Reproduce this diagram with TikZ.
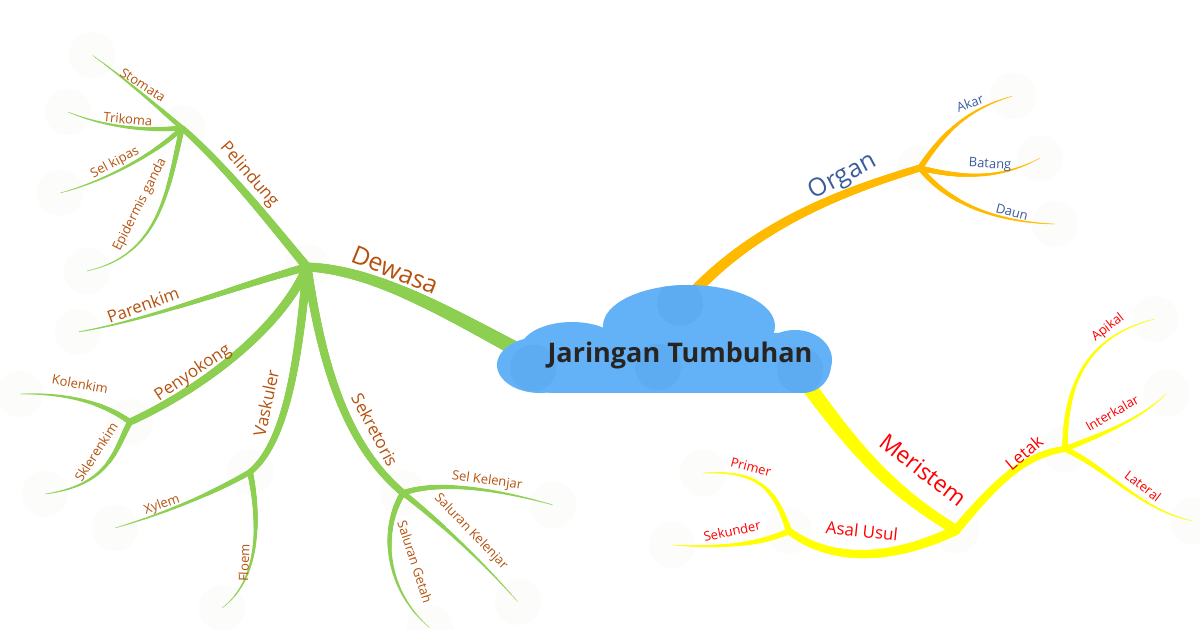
\documentclass[tikz,border=0pt]{standalone}
\usepackage{fontspec}
\setmainfont{Open Sans}
\usetikzlibrary{decorations.markings}
\definecolor{leafgreen}{RGB}{141,207,80}
\definecolor{organgold}{RGB}{255,186,0}
\definecolor{meriyellow}{RGB}{255,255,0}
\definecolor{rustink}{RGB}{182,82,14}
\definecolor{organink}{RGB}{59,92,156}
\definecolor{meriink}{RGB}{255,0,0}
\definecolor{cloudblue}{RGB}{99,178,248}
\definecolor{cloudshade}{RGB}{93,171,241}
\definecolor{rootink}{RGB}{40,36,33}
\definecolor{faint}{RGB}{252,252,250}
\tikzset{
  taper/.style n args={3}{postaction={decorate}, decoration={markings,
    mark=between positions 0 and 1 step 0.4pt with {
      \pgfmathsetmacro\tr{(#3+(#2-#3)*(1-\pgfkeysvalueof{/pgf/decoration/mark info/distance from start}/\pgfdecoratedpathlength))/2}
      \fill[#1] (0,0) circle (\tr pt);}}},
  leaf/.style={font=\fontsize{6.5}{8}\selectfont, inner sep=0pt},
  twig/.style={font=\fontsize{8.5}{10}\selectfont, inner sep=0pt},
  bough/.style={font=\fontsize{12.5}{14}\selectfont, inner sep=0pt},
}
% cloud body, drawn as overlapping lobes
\newcommand{\cloudparts}[1]{%
  \fill[#1, rounded corners=14pt] (525,333) rectangle (831,393);
  \fill[#1] (540,365) ellipse [x radius=21.5pt, y radius=14pt];
  \fill[#1] (572,350) ellipse [x radius=26pt, y radius=14pt];
  \fill[#1] (689,326) ellipse [x radius=43pt, y radius=20.5pt];
  \fill[#1] (795,360) ellipse [x radius=18.5pt, y radius=15pt];
}
\begin{document}
\begin{tikzpicture}[x=0.5pt, y=-0.5pt]
\useasboundingbox (0,0) rectangle (1200,630);
\fill[white] (0,0) rectangle (1200,630);

% junctions
\coordinate (D) at (307,267);
\coordinate (P) at (182,128);
\coordinate (K) at (130,422);
\coordinate (V) at (250,472);
\coordinate (S) at (403,493);
\coordinate (O) at (920,168);
\coordinate (M) at (956,530);
\coordinate (A) at (789,531);
\coordinate (L) at (1065,449);
\coordinate (dw0) at (540,362);
\coordinate (og0) at (688,298);
\coordinate (ms0) at (800,375);
% leaf ends
\coordinate (stomata) at (92,55);
\coordinate (trikoma) at (68,112);
\coordinate (selkipas) at (60,193);
\coordinate (epidermis) at (87,271);
\coordinate (parenkim) at (78,332);
\coordinate (kolenkim) at (20,394);
\coordinate (sklerenkim) at (45,494);
\coordinate (xylem) at (115,528);
\coordinate (floem) at (222,608);
\coordinate (selkel) at (553,505);
\coordinate (salkel) at (518,602);
\coordinate (salget) at (430,628);
\coordinate (akar) at (1013,96);
\coordinate (batang) at (1040,158);
\coordinate (daun) at (1055,224);
\coordinate (primer) at (703,473);
\coordinate (sekunder) at (672,545);
\coordinate (apikal) at (1155,319);
\coordinate (interkalar) at (1167,393);
\coordinate (lateral) at (1193,521);

\foreach \c in {D,P,K,V,S,O,M,A,L,stomata,trikoma,selkipas,epidermis,parenkim,kolenkim,sklerenkim,xylem,floem,selkel,salkel,salget,akar,batang,daun,primer,sekunder,apikal,interkalar,lateral}
  \fill[faint] (\c) circle (11.5pt);

% Dewasa
\path[taper={leafgreen}{7.5}{4.5}] (dw0) .. controls (460,320) and (380,270) .. (D);
\path[taper={leafgreen}{4.5}{3}] (D) .. controls (280,235) and (230,170) .. (P);
\path[taper={leafgreen}{2.5}{0.4}] (P) .. controls (150,100) and (120,75) .. (stomata);
\path[taper={leafgreen}{2.5}{0.4}] (P) .. controls (140,132) and (100,125) .. (trikoma);
\path[taper={leafgreen}{2.5}{0.4}] (P) .. controls (160,150) and (110,180) .. (selkipas);
\path[taper={leafgreen}{2.8}{0.4}] (P) .. controls (168,190) and (160,255) .. (epidermis);
\path[taper={leafgreen}{4}{0.5}] (D) .. controls (240,285) and (150,320) .. (parenkim);
\path[taper={leafgreen}{4.5}{3.5}] (D) .. controls (280,330) and (200,390) .. (K);
\path[taper={leafgreen}{2.8}{0.4}] (K) .. controls (100,400) and (60,393) .. (kolenkim);
\path[taper={leafgreen}{3}{0.4}] (K) .. controls (115,450) and (110,485) .. (sklerenkim);
\path[taper={leafgreen}{4.5}{3}] (D) .. controls (300,340) and (290,440) .. (V);
\path[taper={leafgreen}{2.8}{0.4}] (V) .. controls (210,495) and (160,515) .. (xylem);
\path[taper={leafgreen}{3}{0.4}] (V) .. controls (260,520) and (260,580) .. (floem);
\path[taper={leafgreen}{4.5}{3.5}] (D) .. controls (320,350) and (340,440) .. (S);
\path[taper={leafgreen}{2.8}{0.4}] (S) .. controls (440,480) and (500,490) .. (selkel);
\path[taper={leafgreen}{2.8}{0.4}] (S) .. controls (450,530) and (490,570) .. (salkel);
\path[taper={leafgreen}{3}{0.4}] (S) .. controls (380,530) and (385,590) .. (salget);

% Organ
\path[taper={organgold}{5.5}{3.5}] (og0) .. controls (750,230) and (830,195) .. (O);
\path[taper={organgold}{3}{0.4}] (O) .. controls (945,130) and (970,108) .. (akar);
\path[taper={organgold}{2.8}{0.4}] (O) .. controls (960,178) and (1000,180) .. (batang);
\path[taper={organgold}{2.8}{0.4}] (O) .. controls (945,200) and (990,222) .. (daun);

% Meristem
\path[taper={meriyellow}{7.5}{5}] (ms0) .. controls (845,435) and (880,485) .. (M);
\path[taper={meriyellow}{5}{3.5}] (M) .. controls (890,562) and (830,562) .. (A);
\path[taper={meriyellow}{3}{0.4}] (A) .. controls (775,490) and (760,470) .. (primer);
\path[taper={meriyellow}{3}{0.4}] (A) .. controls (760,545) and (720,548) .. (sekunder);
\path[taper={meriyellow}{4.5}{3}] (M) .. controls (990,490) and (1020,455) .. (L);
\path[taper={meriyellow}{2.8}{0.4}] (L) .. controls (1065,380) and (1090,335) .. (apikal);
\path[taper={meriyellow}{2.8}{0.4}] (L) .. controls (1100,435) and (1140,420) .. (interkalar);
\path[taper={meriyellow}{2.8}{0.4}] (L) .. controls (1110,470) and (1140,510) .. (lateral);

% cloud
\cloudparts{cloudblue}
\foreach \p in {(680,303),(658,367),(533,368),(800,370)} {
  \begin{scope}
    \clip \p circle (11.5pt);
    \cloudparts{cloudshade}
  \end{scope}
}
\node[font=\bfseries\fontsize{13.5}{16}\selectfont, text=rootink] (root) at (680,355) {Jaringan Tumbuhan};

% labels
\node[bough, text=rustink, rotate=-22] (dewasaL) at (395,270) {Dewasa};
\node[twig, text=rustink, rotate=-49] (pelindungL) at (249,175) {Pelindung};
\node[leaf, text=rustink, rotate=-33] (stomataL) at (143,85) {Stomata};
\node[leaf, text=rustink, rotate=-5] (trikomaL) at (128,119) {Trikoma};
\node[leaf, text=rustink, rotate=28] (selkipasL) at (115,163) {Sel kipas};
\node[leaf, text=rustink, rotate=63] (epidermisL) at (140,205) {Epidermis ganda};
\node[twig, text=rustink, rotate=20] (parenkimL) at (143,305) {Parenkim};
\node[twig, text=rustink, rotate=34] (penyokongL) at (193,373) {Penyokong};
\node[leaf, text=rustink, rotate=-10] (kolenkimL) at (80,384) {Kolenkim};
\node[leaf, text=rustink, rotate=57] (sklerenkimL) at (96,452) {Sklerenkim};
\node[twig, text=rustink, rotate=78] (vaskulerL) at (266,403) {Vaskuler};
\node[leaf, text=rustink, rotate=20] (xylemL) at (162,505) {Xylem};
\node[leaf, text=rustink, rotate=88] (floemL) at (244,563) {Floem};
\node[twig, text=rustink, rotate=-62] (sekretorisL) at (375,430) {Sekretoris};
\node[leaf, text=rustink, rotate=-8] (selkelL) at (487,481) {Sel Kelenjar};
\node[leaf, text=rustink, rotate=-46] (salkelL) at (471,532) {Saluran Kelenjar};
\node[leaf, text=rustink, rotate=-72] (salgetL) at (415,562) {Saluran Getah};

\node[bough, text=organink, rotate=28] (organL) at (843,177) {Organ};
\node[leaf, text=organink, rotate=20] (akarL) at (970,103) {Akar};
\node[leaf, text=organink, rotate=-3] (batangL) at (990,165) {Batang};
\node[leaf, text=organink, rotate=-15] (daunL) at (1012,212) {Daun};

\node[bough, text=meriink, rotate=-38, font=\fontsize{11.5}{13}\selectfont] (meristemL) at (923,470) {Meristem};
\node[twig, text=meriink, rotate=-6] (asalL) at (862,531) {Asal Usul};
\node[leaf, text=meriink, rotate=-15] (primerL) at (751,467) {Primer};
\node[leaf, text=meriink, rotate=12] (sekunderL) at (732,531) {Sekunder};
\node[twig, text=meriink, rotate=40] (letakL) at (1024,453) {Letak};
\node[leaf, text=meriink, rotate=38] (apikalL) at (1108,328) {Apikal};
\node[leaf, text=meriink, rotate=30] (interkalarL) at (1112,413) {Interkalar};
\node[leaf, text=meriink, rotate=-37] (lateralL) at (1143,486) {Lateral};
\end{tikzpicture}
\end{document}
